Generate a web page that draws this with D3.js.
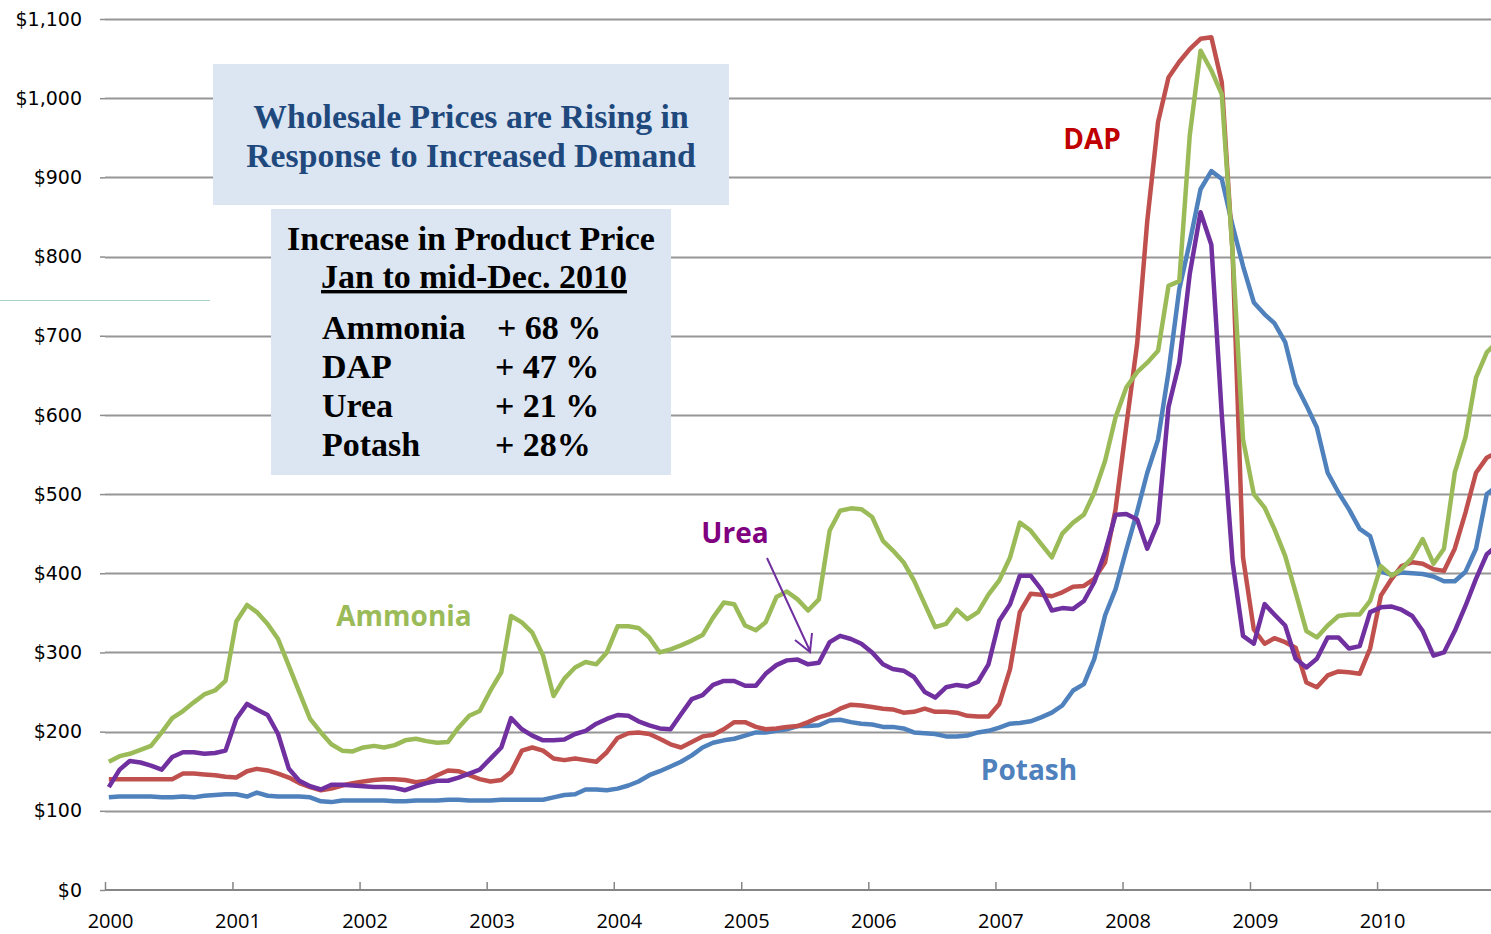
<!DOCTYPE html>
<html>
<head>
<meta charset="utf-8">
<script src="https://d3js.org/d3.v7.min.js"></script>
<style>
    html, body { margin: 0; padding: 0; background: #fff; overflow: hidden; }
    svg { display: block; }
</style>
</head>
<body>
<div id="chart"></div>
<script>
// monthly wholesale prices, $/ton, Jan 2000 .. Dec 2010
var yearTicks = [2000, 2001, 2002, 2003, 2004, 2005, 2006, 2007, 2008, 2009, 2010];
var priceTicks = [0, 100, 200, 300, 400, 500, 600, 700, 800, 900, 1000, 1100];

var ammonia = [
    162, 169, 172, 177, 182, 199, 217, 226, 237, 247, 252, 264,
    339, 360, 351, 336, 317, 283, 250, 216, 199, 184, 176, 175,
    180, 182, 180, 183, 189, 191, 188, 186, 187, 205, 220, 226,
    252, 275, 346, 338, 325, 296, 245, 267, 281, 288, 285, 300,
    333, 333, 331, 319, 300, 304, 309, 315, 322, 344, 363, 361,
    334, 328, 338, 370, 377, 367, 353, 367, 454, 479, 482, 481,
    471, 441, 429, 414, 391, 361, 332, 336, 354, 342, 351, 373,
    391, 420, 464, 454, 437, 420, 450, 464, 474, 502, 542, 597,
    635, 654, 666, 681, 763, 769, 953, 1060, 1035, 1005, 805, 569,
    500, 483, 456, 422, 376, 327, 319, 334, 346, 348, 348, 365,
    409, 397, 405, 420, 443, 412, 431, 527, 572, 647, 679, 692
];
var dap = [
    140, 140, 140, 140, 140, 140, 140, 147, 147, 146, 145, 143,
    142, 150, 153, 151, 147, 142, 135, 130, 126, 128, 132, 135,
    137, 139, 140, 140, 139, 136, 138, 145, 151, 150, 145, 140,
    137, 139, 149, 176, 180, 176, 166, 164, 166, 164, 162, 174,
    192, 198, 199, 197, 191, 184, 180, 187, 194, 196, 203, 212,
    212, 206, 203, 204, 206, 207, 212, 218, 222, 229, 234, 233,
    231, 229, 228, 224, 225, 229, 225, 225, 224, 220, 219, 219,
    235, 279, 351, 374, 373, 371, 376, 383, 384, 393, 414, 481,
    587, 690, 845, 970, 1026, 1046, 1062, 1075, 1077, 1020, 805, 420,
    329, 311, 318, 313, 306, 262, 256, 271, 276, 275, 273, 305,
    372, 393, 409, 414, 412, 405, 403, 431, 477, 527, 546, 553
];
var urea = [
    130, 152, 163, 161, 157, 152, 168, 174, 174, 172, 173, 176,
    216, 235, 228, 221, 197, 153, 138, 131, 127, 133, 133, 132,
    131, 130, 130, 129, 126, 131, 135, 138, 138, 142, 147, 152,
    166, 180, 217, 203, 195, 189, 189, 190, 197, 201, 210, 216,
    221, 220, 213, 208, 204, 203, 222, 241, 246, 259, 264, 264,
    258, 258, 273, 284, 290, 291, 285, 287, 313, 321, 317, 311,
    300, 285, 279, 277, 269, 250, 243, 256, 259, 257, 263, 285,
    340, 361, 397, 397, 380, 353, 356, 355, 365, 389, 427, 474,
    475, 468, 431, 464, 610, 666, 778, 856, 815, 600, 414, 321,
    311, 361, 348, 334, 292, 281, 292, 319, 319, 305, 308, 351,
    357, 358, 354, 346, 327, 296, 300, 327, 359, 393, 424, 435
];
var potash = [
    117, 118, 118, 118, 118, 117, 117, 118, 117, 119, 120, 121,
    121, 118, 123, 119, 118, 118, 118, 117, 112, 111, 113, 113,
    113, 113, 113, 112, 112, 113, 113, 113, 114, 114, 113, 113,
    113, 114, 114, 114, 114, 114, 117, 120, 121, 127, 127, 126,
    128, 132, 137, 145, 150, 156, 162, 170, 180, 186, 189, 191,
    195, 199, 199, 201, 203, 207, 207, 208, 214, 215, 212, 210,
    209, 206, 206, 204, 199, 198, 197, 194, 194, 195, 199, 201,
    205, 210, 211, 213, 218, 224, 233, 252, 260, 292, 347, 380,
    430, 478, 527, 569, 654, 759, 818, 885, 908, 898, 839, 788,
    742, 727, 716, 692, 639, 612, 584, 527, 502, 481, 456, 447,
    402, 398, 401, 400, 399, 396, 390, 390, 402, 431, 500, 510
];

var seriesNames = ["Potash", "DAP", "Ammonia", "Urea"];   //--draw order
var seriesColors = {Ammonia: "#9bbb59", DAP: "#c0504d", Urea: "#7030a0", Potash: "#4f81bd"};
var labelColors = {Ammonia: "#9bbb59", DAP: "#c00000", Urea: "#800080", Potash: "#4f81bd"};

var titleLines = ["Wholesale Prices are Rising in", "Response to Increased Demand"];
var boxHeading = ["Increase in Product Price", "Jan to mid-Dec. 2010"];
var boxRows = [["Ammonia", "+ 68 %"], ["DAP", "+ 47 %"], ["Urea", "+ 21 %"], ["Potash", "+ 28%"]];

(function () {
    var width = 1491, height = 934;
    var plotLeft = 105, plotRight = 1491, plotTop = 19, plotBottom = 890;
    var dataBySeries = {Ammonia: ammonia, DAP: dap, Urea: urea, Potash: potash};

    var svg = d3.select("#chart").append("svg")
        .attr("width", width)
        .attr("height", height);

    var x = d3.scaleTime()
        .domain([new Date(2000, 0, 1), new Date(2011, 0, 1)])
        .range([plotLeft, plotLeft + 11 * 127.2]);
    var y = d3.scaleLinear()
        .domain([0, 1100])
        .range([plotBottom, plotTop]);

    svg.append("defs").append("clipPath").attr("id", "plotClip")
        .append("rect")
        .attr("x", plotLeft).attr("y", 0)
        .attr("width", plotRight - plotLeft).attr("height", plotBottom);

    //--stray guide line at the left edge of the slide
    svg.append("line")
        .attr("x1", 0).attr("x2", 210).attr("y1", 300.5).attr("y2", 300.5)
        .attr("stroke", "#a9d3c8").attr("stroke-width", 1);

    //--gridlines + y axis
    var yAxis = d3.axisLeft(y)
        .tickValues(priceTicks)
        .tickSize(5)
        .tickPadding(18)
        .tickFormat(d3.format("$,"));
    var gy = svg.append("g")
        .attr("transform", "translate(" + plotLeft + ",0)")
        .call(yAxis);
    gy.select(".domain").remove();
    gy.selectAll(".tick line").attr("stroke", "#8c8c8c").attr("stroke-width", 1.5);
    gy.selectAll(".tick text")
        .attr("fill", "#000")
        .style("font-family", "'DejaVu Sans', sans-serif")
        .style("font-size", "19px");

    svg.append("g").selectAll("line.grid")
        .data(priceTicks.filter(function (d) { return d > 0; }))
        .enter().append("line")
        .attr("class", "grid")
        .attr("x1", plotLeft).attr("x2", plotRight)
        .attr("y1", function (d) { return Math.round(y(d)) + 0.5; })
        .attr("y2", function (d) { return Math.round(y(d)) + 0.5; })
        .attr("stroke", "#969696")
        .attr("stroke-width", 1.8);

    //--x axis (ticks point up into the plot)
    var xAxis = d3.axisBottom(x)
        .tickValues(yearTicks.map(function (d) { return new Date(d, 0, 1); }))
        .tickSize(-8)
        .tickSizeOuter(0)
        .tickFormat(d3.timeFormat("%Y"));
    var gx = svg.append("g")
        .attr("transform", "translate(0," + plotBottom + ")")
        .call(xAxis);
    gx.select(".domain")
        .attr("d", "M" + plotLeft + ",0H" + plotRight)
        .attr("stroke", "#868686").attr("stroke-width", 2);
    gx.selectAll(".tick line").attr("stroke", "#868686").attr("stroke-width", 1.5);
    gx.selectAll(".tick text")
        .attr("fill", "#000")
        .attr("y", 24)
        .attr("dx", 5)
        .style("font-family", "'Open Sans', sans-serif")
        .style("font-size", "20px");

    //--price lines
    var line = d3.line()
        .x(function (d, i) { return x(new Date(2000, i, 12)); })
        .y(function (d) { return y(d); });

    svg.append("g")
        .attr("clip-path", "url(#plotClip)")
        .selectAll("path.series")
        .data(seriesNames)
        .enter().append("path")
        .attr("class", "series")
        .attr("d", function (name) { return line(dataBySeries[name]); })
        .attr("fill", "none")
        .attr("stroke", function (name) { return seriesColors[name]; })
        .attr("stroke-width", 4.5)
        .attr("stroke-linejoin", "round");

    //--series labels
    var labelPos = {Ammonia: [404, 616], DAP: [1092, 139], Urea: [735, 533], Potash: [1029, 770]};
    svg.append("g").selectAll("text")
        .data(seriesNames)
        .enter().append("text")
        .attr("x", function (name) { return labelPos[name][0]; })
        .attr("y", function (name) { return labelPos[name][1]; })
        .attr("dy", "0.36em")
        .attr("text-anchor", "middle")
        .attr("fill", function (name) { return labelColors[name]; })
        .style("font-family", "'Open Sans', sans-serif")
        .style("font-weight", "bold")
        .style("font-size", "28px")
        .text(function (name) { return name; });

    //--urea pointer
    svg.append("path")
        .attr("d", "M767,558L810,651M795,640L810,652L812,633")
        .attr("fill", "none")
        .attr("stroke", "#7030a0")
        .attr("stroke-width", 2);

    //--title box
    svg.append("rect")
        .attr("x", 213).attr("y", 64).attr("width", 516).attr("height", 141)
        .attr("fill", "#dce6f2");
    svg.append("g").selectAll("text")
        .data(titleLines)
        .enter().append("text")
        .attr("x", 471)
        .attr("y", function (d, i) { return 128 + i * 39; })
        .attr("text-anchor", "middle")
        .attr("fill", "#1f497d")
        .style("font-family", "'Liberation Serif', serif")
        .style("font-weight", "bold")
        .style("font-size", "33.7px")
        .text(function (d) { return d; });

    //--summary box
    svg.append("rect")
        .attr("x", 271).attr("y", 209).attr("width", 400).attr("height", 266)
        .attr("fill", "#dce6f2");
    var box = svg.append("g")
        .style("font-family", "'Liberation Serif', serif")
        .style("font-weight", "bold")
        .style("font-size", "34px")
        .attr("fill", "#000");
    box.append("text")
        .attr("x", 471).attr("y", 250)
        .attr("text-anchor", "middle")
        .text(boxHeading[0]);
    box.append("text")
        .attr("x", 474).attr("y", 288)
        .attr("text-anchor", "middle")
        .attr("text-decoration", "underline")
        .text(boxHeading[1]);
    var rows = box.selectAll("g.row")
        .data(boxRows)
        .enter().append("g")
        .attr("class", "row")
        .attr("transform", function (d, i) { return "translate(0," + (339 + i * 39) + ")"; });
    rows.append("text").attr("x", 322).text(function (d) { return d[0]; });
    rows.append("text").attr("x", function (d, i) { return i === 0 ? 497 : 495; })
        .text(function (d) { return d[1]; });
})();
</script>
</body>
</html>
